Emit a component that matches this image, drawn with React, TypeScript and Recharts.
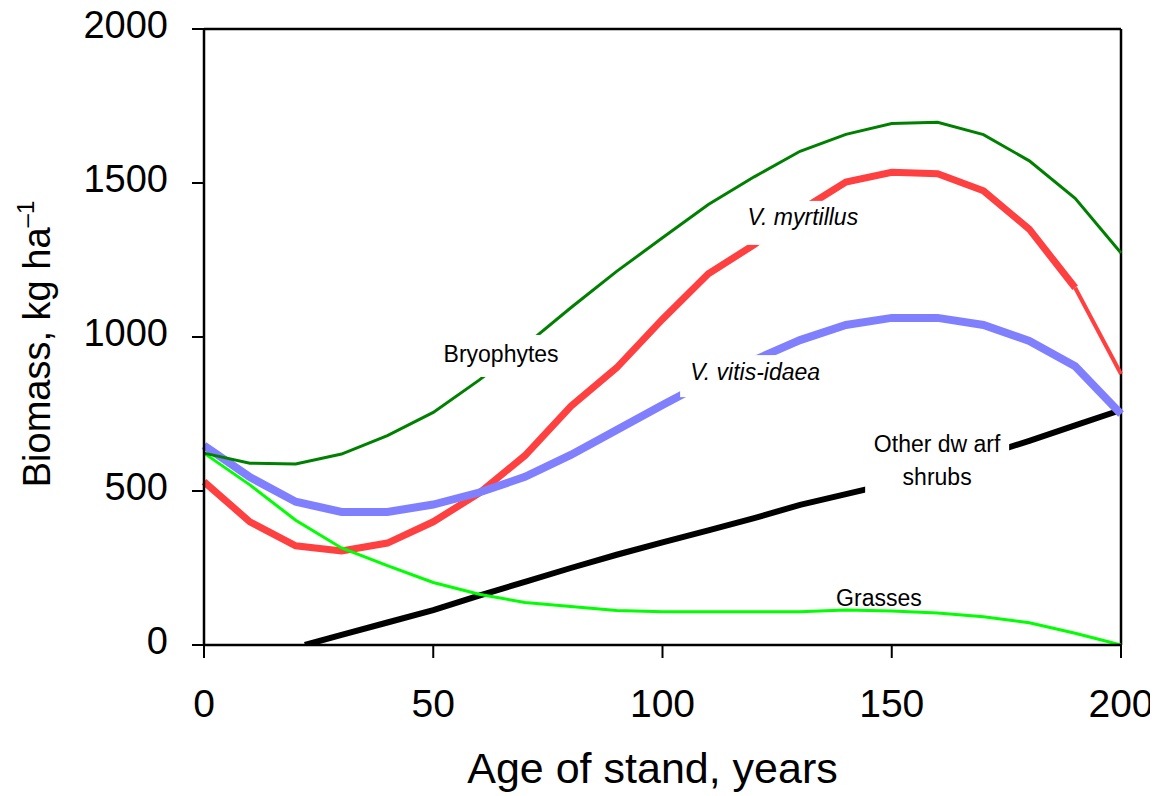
import React from 'react';
import { LineChart, Line, XAxis, YAxis, ReferenceLine, ReferenceDot } from 'recharts';

const ages = [0, 10, 20, 30, 40, 50, 60, 70, 80, 90, 100, 110, 120, 130, 140, 150, 160, 170, 180, 190, 200];
const bryophytes = [623, 590, 588, 620, 680, 755, 860, 972, 1095, 1213, 1322, 1430, 1520, 1603, 1658, 1693, 1697, 1657, 1572, 1450, 1273];
const vMyrtillus = [530, 400, 322, 305, 331, 400, 493, 615, 775, 900, 1058, 1205, 1300, 1410, 1503, 1535, 1530, 1475, 1350, 1160, 880];
const vVitisIdaea = [648, 545, 465, 432, 432, 456, 495, 546, 617, 698, 779, 858, 925, 990, 1039, 1062, 1062, 1039, 987, 905, 750];
const grasses = [623, 520, 405, 315, 258, 203, 165, 138, 125, 112, 108, 108, 108, 108, 114, 110, 104, 92, 72, 38, 0];
const shrubAges = [22, 30, 40, 50, 60, 70, 80, 90, 100, 110, 120, 130, 140, 150, 160, 170, 180, 190, 200];
const otherDwarfShrubs = [0, 33, 73, 113, 160, 205, 250, 293, 333, 372, 412, 455, 490, 525, 570, 615, 663, 713, 763];

const xTicks = [0, 50, 100, 150, 200];
const yTicks = [0, 500, 1000, 1500, 2000];

const FONT = '"Liberation Sans", Arial, Helvetica, sans-serif';

const toPoints = (xs: number[], ys: number[]) => xs.map((x, i) => ({ age: x, value: ys[i] }));

const YTick = (props: any) => {
  const { x, y, payload } = props;
  return (
    <text x={x} y={y} dy={9} textAnchor="end" fontSize={38} fontFamily={FONT} fill="#000">
      {payload.value}
    </text>
  );
};

const XTick = (props: any) => {
  const { x, y, payload } = props;
  return (
    <text x={x} y={y} dy={51} textAnchor="middle" fontSize={39} fontFamily={FONT} fill="#000">
      {payload.value}
    </text>
  );
};

const XTitle = (props: any) => {
  const vb = props.viewBox || { x: 204, y: 645, width: 917, height: 60 };
  return (
    <text x={vb.x + vb.width / 2 - 10} y={vb.y + 138} textAnchor="middle" fontSize={43} fontFamily={FONT} fill="#000">
      Age of stand, years
    </text>
  );
};

const YTitle = (props: any) => {
  const vb = props.viewBox || { x: 104, y: 29, width: 100, height: 616 };
  const cx = 50;
  const cy = vb.y + vb.height / 2 + 7;
  return (
    <text transform={`translate(${cx},${cy}) rotate(-90)`} textAnchor="middle" fontSize={38} fontFamily={FONT} fill="#000">
      Biomass, kg ha
      <tspan fontSize={24} dy={-16}>–1</tspan>
    </text>
  );
};

const makeLabel = (lines: string[], italic: boolean, boxW: number, boxH: number, boxDy: number, showBox: boolean) =>
  (props: any) => {
    const { cx, cy } = props;
    const lh = 33;
    const startY = cy - ((lines.length - 1) * lh) / 2 + 8;
    return (
      <g>
        {showBox && <rect x={cx - boxW / 2} y={cy - boxH / 2 + boxDy} width={boxW} height={boxH} fill="#fff" />}
        <text textAnchor="middle" fontSize={23} fontFamily={FONT} fontStyle={italic ? 'italic' : 'normal'} fill="#000">
          {lines.map((l, i) => (
            <tspan key={i} x={cx} y={startY + i * lh}>{l}</tspan>
          ))}
        </text>
      </g>
    );
  };

export default function App() {
  const myrtThick = toPoints(ages.slice(0, 20), vMyrtillus.slice(0, 20));
  const myrtThin = toPoints(ages.slice(19), vMyrtillus.slice(19));
  return (
    <div style={{ margin: '-8px 0 0 -8px', width: 1158, height: 796 }}>
      <LineChart
        width={1158}
        height={796}
        margin={{ top: 29, right: 37, bottom: 91, left: 104 }}
        style={{ background: '#fff' }}
      >
        <XAxis
          dataKey="age"
          type="number"
          domain={[0, 200]}
          ticks={xTicks}
          allowDuplicatedCategory={false}
          height={60}
          tickSize={13}
          tickMargin={8}
          tick={<XTick />}
          axisLine={{ stroke: '#000', strokeWidth: 2.5 }}
          tickLine={{ stroke: '#000', strokeWidth: 2 }}
          label={<XTitle />}
        />
        <YAxis
          type="number"
          domain={[0, 2000]}
          ticks={yTicks}
          width={100}
          tickSize={12}
          tickMargin={24}
          tick={<YTick />}
          axisLine={{ stroke: '#000', strokeWidth: 2.5 }}
          tickLine={{ stroke: '#000', strokeWidth: 2 }}
          label={<YTitle />}
          allowDataOverflow
        />
        <ReferenceLine y={2000} stroke="#000" strokeWidth={2.5} />
        <ReferenceLine x={200} stroke="#000" strokeWidth={2.5} />
        <Line data={toPoints(shrubAges, otherDwarfShrubs)} dataKey="value" type="linear" stroke="#000" strokeWidth={6} dot={false} isAnimationActive={false} />
        <Line data={myrtThick} dataKey="value" type="linear" stroke="#FF4040" strokeWidth={7} dot={false} isAnimationActive={false} />
        <Line data={myrtThin} dataKey="value" type="linear" stroke="#FF4040" strokeWidth={4} dot={false} isAnimationActive={false} />
        <Line data={toPoints(ages, vVitisIdaea)} dataKey="value" type="linear" stroke="#8080FF" strokeWidth={8} dot={false} isAnimationActive={false} />
        <Line data={toPoints(ages, grasses)} dataKey="value" type="linear" stroke="#00FF00" strokeWidth={3} dot={false} isAnimationActive={false} />
        <Line data={toPoints(ages, bryophytes)} dataKey="value" type="linear" stroke="#008000" strokeWidth={3} dot={false} isAnimationActive={false} />
        <ReferenceDot x={64.8} y={945} r={0} ifOverflow="visible" shape={makeLabel(['Bryophytes'], false, 133, 42, 2, true)} />
        <ReferenceDot x={130.6} y={1390} r={0} ifOverflow="visible" shape={makeLabel(['V. myrtillus'], true, 130, 44, 6, true)} />
        <ReferenceDot x={120.2} y={886} r={0} ifOverflow="visible" shape={makeLabel(['V. vitis-idaea'], true, 150, 42, 4, true)} />
        <ReferenceDot x={159.9} y={600} r={0} ifOverflow="visible" shape={makeLabel(['Other dw arf', 'shrubs'], false, 144, 80, 2, true)} />
        <ReferenceDot x={147.2} y={153} r={0} ifOverflow="visible" shape={makeLabel(['Grasses'], false, 0, 0, 0, false)} />
      </LineChart>
    </div>
  );
}
